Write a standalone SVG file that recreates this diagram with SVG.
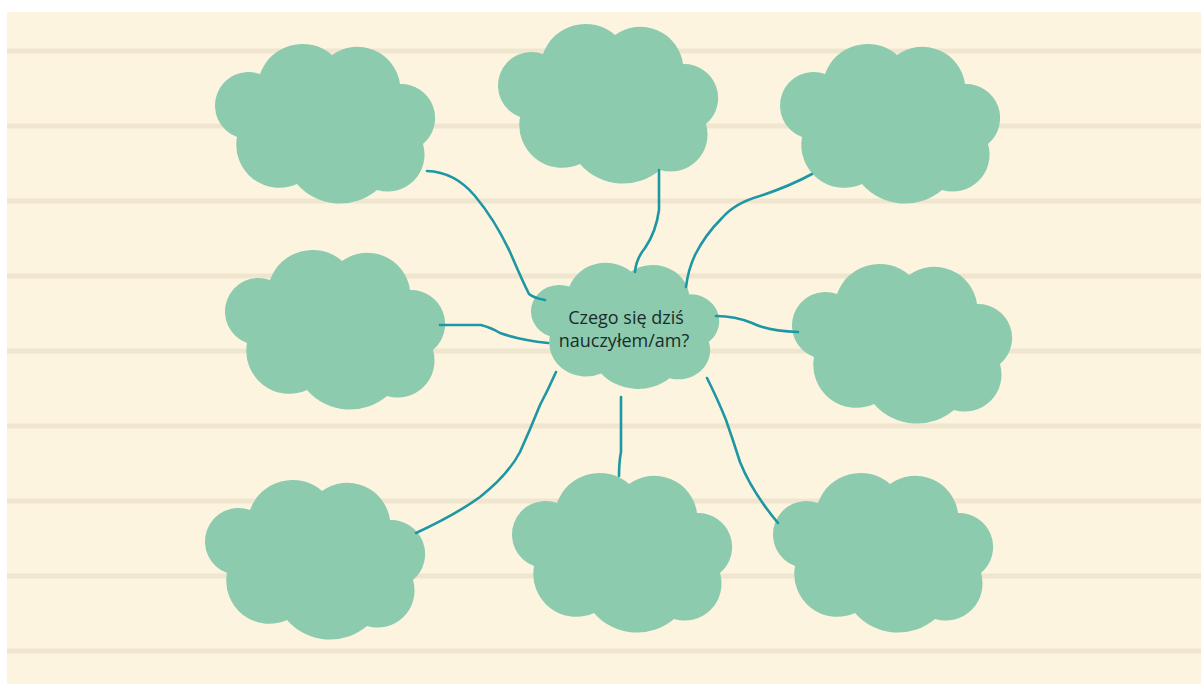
<svg xmlns="http://www.w3.org/2000/svg" width="1201" height="684" viewBox="0 0 1201 684">
<style>
.rule{stroke:#f0e5cf;stroke-width:5}
.cloud{fill:#8ccbae}
.conn{fill:none;stroke:#1c97a3;stroke-width:2.6;stroke-linecap:round;stroke-linejoin:round}
.lbl{font-family:"Open Sans","Noto Sans",sans-serif;font-size:18px;fill:#1b2b2b;text-anchor:middle}
</style>
<defs>
<path id="cl" d="M45,31 A45,45 0 0 1 117,12 A43,43 0 0 1 185,41 A34,34 0 0 1 208,101 A37,37 0 0 1 162,147 A57,57 0 0 1 82,141 A43,43 0 0 1 22,94 A33,33 0 0 1 45,31 Z"/>
</defs>
<rect width="1201" height="684" fill="#ffffff"/>
<rect x="7" y="12" width="1194" height="672" fill="#fdf4e0"/>
<g id="rules">
<line class="rule" x1="7" y1="51" x2="1201" y2="51"/>
<line class="rule" x1="7" y1="126" x2="1201" y2="126"/>
<line class="rule" x1="7" y1="201" x2="1201" y2="201"/>
<line class="rule" x1="7" y1="276" x2="1201" y2="276"/>
<line class="rule" x1="7" y1="351" x2="1201" y2="351"/>
<line class="rule" x1="7" y1="426" x2="1201" y2="426"/>
<line class="rule" x1="7" y1="501" x2="1201" y2="501"/>
<line class="rule" x1="7" y1="576" x2="1201" y2="576"/>
<line class="rule" x1="7" y1="651" x2="1201" y2="651"/>
</g>
<g id="cloud-top-left"><use href="#cl" class="cloud" transform="translate(215,43)"/></g>
<g id="cloud-top-middle"><use href="#cl" class="cloud" transform="translate(498,23)"/></g>
<g id="cloud-top-right"><use href="#cl" class="cloud" transform="translate(780,43)"/></g>
<g id="cloud-mid-left"><use href="#cl" class="cloud" transform="translate(225,249)"/></g>
<g id="cloud-mid-right"><use href="#cl" class="cloud" transform="translate(792,263)"/></g>
<g id="cloud-bottom-left"><use href="#cl" class="cloud" transform="translate(205,479)"/></g>
<g id="cloud-bottom-middle"><use href="#cl" class="cloud" transform="translate(512,472)"/></g>
<g id="cloud-bottom-right"><use href="#cl" class="cloud" transform="translate(773,472)"/></g>
<g id="center">
<use href="#cl" class="cloud" transform="translate(531,262) scale(0.855,0.79)"/>
<text class="lbl" x="626" y="324">Czego się dziś</text>
<text class="lbl" x="624" y="347">nauczyłem/am?</text>
</g>
<g id="connectors">
<path class="conn" d="M427,171 Q455,172 475,196 T510,252 Q522,280 529,294 Q534,298 545,300"/>
<path class="conn" d="M659,170 L659,210 Q656,232 645,248 Q636,259 635,272"/>
<path class="conn" d="M812,174 Q790,186 760,196 Q735,203 722,218 Q705,235 695,255 Q688,270 686,287"/>
<path class="conn" d="M440,325 L481,325 Q492,328 500,333 Q520,340 548,343"/>
<path class="conn" d="M716,316 Q735,316 752,323 Q768,331 798,332"/>
<path class="conn" d="M556,372 Q548,390 540,405 Q530,430 520,452 Q508,475 480,497 Q455,515 416,533"/>
<path class="conn" d="M621,397 L621,452 Q619,462 619,476"/>
<path class="conn" d="M707,378 Q718,400 726,420 Q733,440 740,462 Q752,492 778,523"/>
</g>
</svg>
